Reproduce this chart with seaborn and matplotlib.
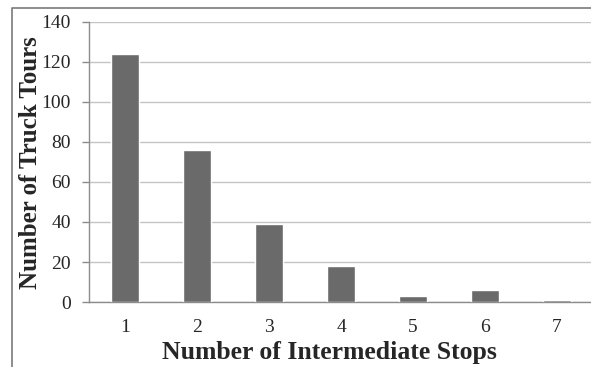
import numpy as np
import pandas as pd
import matplotlib
matplotlib.use('Agg')
import matplotlib.pyplot as plt
from matplotlib.lines import Line2D
import seaborn as sns

# data
stops = ['1', '2', '3', '4', '5', '6', '7']
tours = [124, 76, 39, 18, 3, 6, 1]

data = pd.DataFrame({'Stops': stops, 'Tours': tours})

sns.set_style('white')
plt.rcParams['font.family'] = ['Liberation Serif', 'DejaVu Serif']

fig = plt.figure(figsize=(5.91, 3.67), dpi=100)
ax = fig.add_axes([0.1506, 0.1771, 0.8528, 0.763])

sns.barplot(data=data, x='Stops', y='Tours', color='#6a6a6a', saturation=1,
            width=0.4, ax=ax, zorder=3)

ax.set_ylim(0, 140)
ax.set_xlim(-0.5, 6.5)
ax.set_yticks(np.arange(0, 141, 20))
ax.yaxis.grid(True, color='#c4c4c4', linewidth=1, zorder=0)
ax.set_axisbelow(True)

# tick marks between categories, labels centred under the bars
ax.set_xticks(np.arange(-0.5, 7, 1), minor=True)
ax.tick_params(axis='x', which='major', length=0, pad=12, labelsize=14)
ax.tick_params(axis='x', which='minor', length=5, width=1, color='#8c8c8c', direction='out')
ax.tick_params(axis='y', length=5, width=1, color='#8c8c8c', direction='out', pad=8, labelsize=14, left=True)

for s in ['top', 'right']:
    ax.spines[s].set_visible(False)
for s in ['left', 'bottom']:
    ax.spines[s].set_color('#8c8c8c')
    ax.spines[s].set_linewidth(1)

ax.set_xlabel('Number of Intermediate Stops', fontsize=18.5, fontweight='bold')
ax.set_ylabel('Number of Truck Tours', fontsize=18, fontweight='bold')
ax.xaxis.set_label_coords((329 - 89) / 504, -(352 - 302) / 280, transform=ax.transAxes)
ax.yaxis.set_label_coords(-(89 - 30) / 504, (302 - 163) / 280, transform=ax.transAxes)
ax.xaxis.label.set_va('center')
ax.yaxis.label.set_va('center')

# outer frame (left and top edges)
fig.add_artist(Line2D([12 / 591, 12 / 591, 1.0], [0.0, 1 - 8 / 367, 1 - 8 / 367],
                      transform=fig.transFigure, color='#7a7a7a', linewidth=1.2))

fig.savefig('out.png', dpi=100, facecolor='white')
